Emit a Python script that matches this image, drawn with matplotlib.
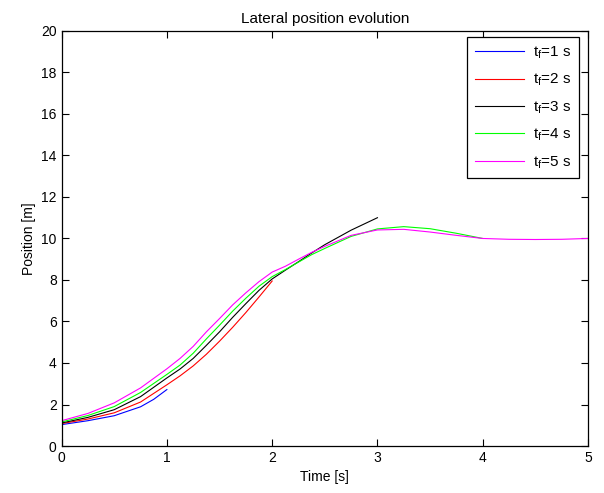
import matplotlib
matplotlib.use('Agg')
import matplotlib.pyplot as plt

plt.rcParams['font.family'] = ['Liberation Sans', 'DejaVu Sans']
plt.rcParams['font.size'] = 10

# time (s) and lateral position (m) for each final time t_f
t_tf1 = [0, 0.25, 0.5, 0.75, 0.875, 1.0]
y_tf1 = [1.03, 1.22, 1.46, 1.89, 2.25, 2.72]

t_tf2 = [0, 0.25, 0.5, 0.75, 1.0, 1.125, 1.25, 1.375, 1.5, 1.625, 1.75, 1.875, 2.0]
y_tf2 = [1.08, 1.3, 1.6, 2.12, 2.95, 3.38, 3.86, 4.42, 5.05, 5.72, 6.43, 7.18, 7.95]

t_tf3 = [0, 0.25, 0.5, 0.75, 1.0, 1.125, 1.25, 1.375, 1.5, 1.625, 1.75, 1.875, 2.0,
         2.125, 2.25, 2.375, 2.5, 2.75, 3.0]
y_tf3 = [1.11, 1.38, 1.75, 2.38, 3.28, 3.71, 4.22, 4.85, 5.5, 6.2, 6.86, 7.5, 8.05,
         8.47, 8.88, 9.3, 9.7, 10.4, 11.0]

t_tf4 = [0, 0.25, 0.5, 0.75, 1.0, 1.125, 1.25, 1.375, 1.5, 1.625, 1.75, 1.875, 2.0,
         2.125, 2.25, 2.375, 2.5, 2.75, 3.0, 3.25, 3.5, 3.75, 4.0]
y_tf4 = [1.16, 1.47, 1.9, 2.58, 3.45, 3.9, 4.47, 5.16, 5.82, 6.5, 7.12, 7.7, 8.16,
         8.5, 8.86, 9.22, 9.52, 10.1, 10.46, 10.57, 10.47, 10.25, 10.0]

t_tf5 = [0, 0.25, 0.5, 0.75, 1.0, 1.125, 1.25, 1.375, 1.5, 1.625, 1.75, 1.875, 2.0,
         2.125, 2.25, 2.375, 2.5, 2.75, 3.0, 3.25, 3.5, 3.75, 4.0, 4.25, 4.5, 4.75, 5.0]
y_tf5 = [1.22, 1.57, 2.08, 2.8, 3.72, 4.22, 4.8, 5.5, 6.14, 6.8, 7.38, 7.92, 8.38,
         8.66, 9.0, 9.33, 9.62, 10.15, 10.41, 10.44, 10.31, 10.15, 10.0, 9.96, 9.95, 9.96, 10.0]

labels = [r'$\mathregular{t_f}$=1 s', r'$\mathregular{t_f}$=2 s', r'$\mathregular{t_f}$=3 s',
          r'$\mathregular{t_f}$=4 s', r'$\mathregular{t_f}$=5 s']
colors = ['#0000ff', '#ff0000', '#000000', '#00ff00', '#ff00ff']

fig = plt.figure(figsize=(6.04, 4.93), dpi=100)
ax = fig.add_axes([0.102, 0.0953, 0.8715, 0.842])

series = [(t_tf1, y_tf1), (t_tf2, y_tf2), (t_tf3, y_tf3), (t_tf4, y_tf4), (t_tf5, y_tf5)]
for (t, y), c, lab in zip(series, colors, labels):
    ax.plot(t, y, color=c, lw=0.8, label=lab)

ax.set_xlim(0, 5)
ax.set_ylim(0, 20)
ax.set_xticks(range(0, 6))
ax.set_yticks(range(0, 21, 2))
ax.tick_params(direction='in', top=True, right=True, length=5, width=0.8, labelsize=10)
for s in ax.spines.values():
    s.set_linewidth(0.9)

ax.set_title('Lateral position evolution', fontsize=11)
ax.set_xlabel('Time [s]', fontsize=10)
ax.set_ylabel('Position [m]', fontsize=10)

leg = ax.legend(loc='upper right', bbox_to_anchor=(0.983, 0.9855), borderaxespad=0,
                fancybox=False, framealpha=1, edgecolor='black', handlelength=3.2,
                labelspacing=0.72, borderpad=0.5, handletextpad=0.6, fontsize=11)
leg.get_frame().set_linewidth(0.9)

fig.savefig('out.png', dpi=100)
